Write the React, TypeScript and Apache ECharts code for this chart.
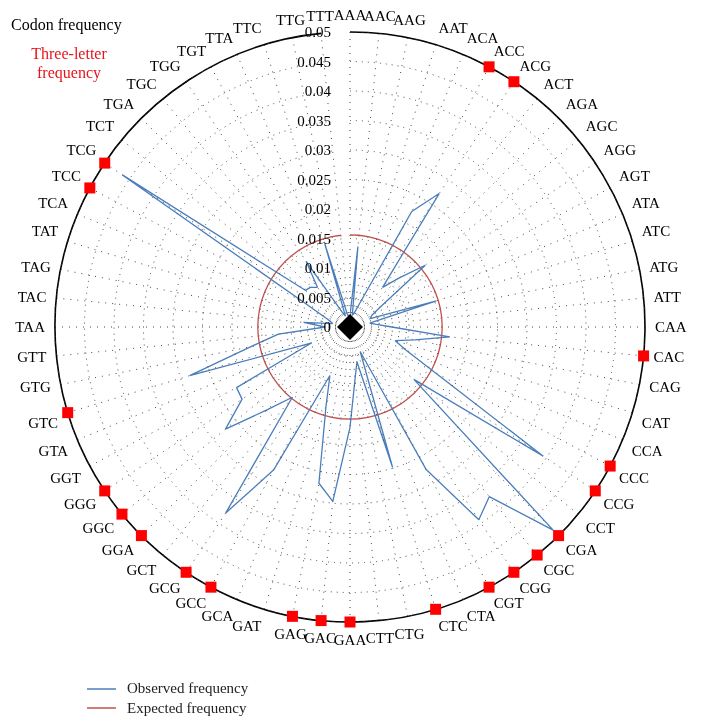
import React, { useEffect, useRef } from "react";
import * as echarts from "echarts";

const codons = [
  "AAA", "AAC", "AAG", "AAT", "ACA", "ACC", "ACG", "ACT",
  "AGA", "AGC", "AGG", "AGT", "ATA", "ATC", "ATG", "ATT",
  "CAA", "CAC", "CAG", "CAT", "CCA", "CCC", "CCG", "CCT",
  "CGA", "CGC", "CGG", "CGT", "CTA", "CTC", "CTG", "CTT",
  "GAA", "GAC", "GAG", "GAT", "GCA", "GCC", "GCG", "GCT",
  "GGA", "GGC", "GGG", "GGT", "GTA", "GTC", "GTG", "GTT",
  "TAA", "TAC", "TAG", "TAT", "TCA", "TCC", "TCG", "TCT",
  "TGA", "TGC", "TGG", "TGT", "TTA", "TTC", "TTG", "TTT",
];

const observed = [
  0.002, 0.0137, 0.002, 0.0025, 0.0045, 0.0222, 0.0272, 0.0087,
  0.0117, 0.0165, 0.0064, 0.0042, 0.0037, 0.0153, 0.0034, 0.0045,
  0.0071, 0.017, 0.0112, 0.008, 0.0103, 0.0162, 0.0394, 0.014,
  0.0487, 0.0372, 0.0393, 0.0274, 0.0045, 0.0248, 0.006, 0.0088,
  0.017, 0.0297, 0.027, 0.014, 0.0089, 0.0275, 0.0379, 0.0154,
  0.0198, 0.0273, 0.022, 0.0218, 0.007, 0.0284, 0.0172, 0.0122,
  0.0042, 0.0079, 0.003, 0.0036, 0.005, 0.0089, 0.0464, 0.0098,
  0.0095, 0.0087, 0.0134, 0.003, 0.002, 0.0147, 0.002, 0.002,
];

const expectedValue = 1 / 64;

const threeLetterCodons = [
  "ACC", "ACG", "CAC", "CCC", "CCG", "CGA", "CGC", "CGG", "CGT", "CTC",
  "GAA", "GAC", "GAG", "GCC", "GCG", "GGA", "GGC", "GGG", "GTC", "TCC", "TCG",
];
const threeLetterValue = 0.05;

const radiusMin = 0;
const radiusMax = 0.05;
const radiusStep = 0.005;

export default function App() {
  const ref = useRef<HTMLDivElement>(null);

  useEffect(() => {
    if (!ref.current) return;
    const chart = echarts.init(ref.current, undefined, { renderer: "svg" });
    const serif = "Liberation Serif";

    const obsData: number[][] = observed.map((v, i) => [v, i]);
    obsData.push([observed[0], 0]);
    const expData: number[][] = codons.map((_, i) => [expectedValue, i]);
    expData.push([expectedValue, 0]);
    const threeData = threeLetterCodons.map((c) => [threeLetterValue, codons.indexOf(c)]);

    chart.setOption({
      animation: false,
      textStyle: { fontFamily: serif },
      polar: { center: [350, 327], radius: 295 },
      angleAxis: {
        type: "category",
        data: codons,
        startAngle: 90,
        clockwise: true,
        boundaryGap: false,
        axisLine: { show: true, lineStyle: { color: "#000", width: 1.6 } },
        axisTick: { show: false },
        axisLabel: {
          interval: 0,
          margin: 10,
          fontSize: 15,
          color: "#000",
          fontFamily: serif,
        },
        splitLine: {
          show: true,
          interval: 0,
          lineStyle: { color: "#444", width: 1, type: [1, 6] },
        },
        z: 2,
      },
      radiusAxis: {
        type: "value",
        min: radiusMin,
        max: radiusMax,
        interval: radiusStep,
        axisLine: { show: false },
        axisTick: { show: false },
        axisLabel: {
          margin: 19,
          fontSize: 15,
          color: "#000",
          fontFamily: serif,
          formatter: (v: number) => String(parseFloat(Number(v).toFixed(3))),
        },
        splitLine: {
          show: true,
          lineStyle: { color: "#444", width: 1, type: [1, 5] },
        },
        z: 6,
      },
      series: [
        {
          name: "Expected frequency",
          type: "line",
          coordinateSystem: "polar",
          data: expData,
          symbol: "none",
          showSymbol: false,
          lineStyle: { color: "#c0504d", width: 1.3 },
          z: 3,
        },
        {
          name: "Observed frequency",
          type: "line",
          coordinateSystem: "polar",
          data: obsData,
          symbol: "none",
          showSymbol: false,
          lineStyle: { color: "#4a7ebb", width: 1.3 },
          z: 4,
        },
        {
          name: "Three-letter frequency",
          type: "scatter",
          coordinateSystem: "polar",
          data: threeData,
          symbol: "rect",
          symbolSize: 11,
          itemStyle: { color: "#ff0000", opacity: 1 },
          z: 7,
        },
        {
          name: "Codon frequency",
          type: "scatter",
          coordinateSystem: "polar",
          data: [[0, 0]],
          symbol: "diamond",
          symbolSize: 26,
          itemStyle: { color: "#000", opacity: 1 },
          z: 8,
        },
      ],
      graphic: [
        {
          type: "text",
          left: 11,
          top: 16,
          style: { text: "Codon frequency", fontSize: 16, fontFamily: serif, fill: "#000" },
        },
        {
          type: "text",
          x: 69,
          y: 53,
          style: {
            text: "Three-letter",
            fontSize: 16,
            fontFamily: serif,
            fill: "#e8141a",
            align: "center",
            verticalAlign: "middle",
          },
        },
        {
          type: "text",
          x: 69,
          y: 72,
          style: {
            text: "frequency",
            fontSize: 16,
            fontFamily: serif,
            fill: "#e8141a",
            align: "center",
            verticalAlign: "middle",
          },
        },
        {
          type: "line",
          shape: { x1: 87, y1: 689, x2: 116, y2: 689 },
          style: { stroke: "#4a7ebb", lineWidth: 1.5 },
        },
        {
          type: "text",
          x: 127,
          y: 688,
          style: {
            text: "Observed frequency",
            fontSize: 15,
            fontFamily: serif,
            fill: "#222",
            verticalAlign: "middle",
          },
        },
        {
          type: "line",
          shape: { x1: 87, y1: 708, x2: 116, y2: 708 },
          style: { stroke: "#c0504d", lineWidth: 1.5 },
        },
        {
          type: "text",
          x: 127,
          y: 708,
          style: {
            text: "Expected frequency",
            fontSize: 15,
            fontFamily: serif,
            fill: "#222",
            verticalAlign: "middle",
          },
        },
      ],
    });

    return () => chart.dispose();
  }, []);

  return (
    <div
      ref={ref}
      style={{ position: "fixed", left: 0, top: 0, width: 703, height: 727 }}
    />
  );
}
